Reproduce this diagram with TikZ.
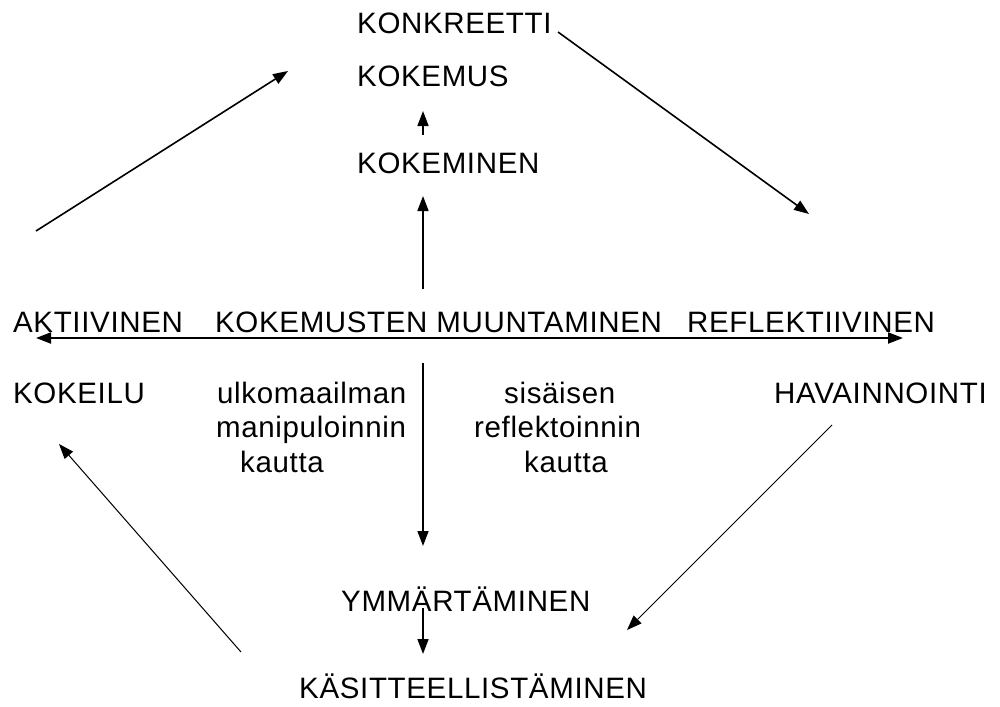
\documentclass[tikz,border=0pt]{standalone}
\usepackage{fontspec}
\setmainfont{Liberation Sans}[LetterSpace=2.2]
\usetikzlibrary{arrows.meta}
\begin{document}
\begin{tikzpicture}[x=1pt,y=-1pt,
  lbl/.style={anchor=base west,inner sep=0pt,font=\fontsize{29.5}{33}\selectfont},
  arr/.style={line width=1.6pt,-{Triangle[length=15pt,width=11pt]}},
  thinarr/.style={line width=1pt,-{Triangle[length=15pt,width=11pt]}}]
\useasboundingbox (0,0) rectangle (1000,706);
% texts
\node[lbl] (konk) at (357,34) {KONKREETTI};
\node[lbl] (kokemus) at (357,87) {KOKEMUS};
\node[lbl] (kokeminen) at (357,173) {KOKEMINEN};
\node[lbl] (akt) at (13,332) {AKTIIVINEN};
\node[lbl] (muunt) at (215,332) {KOKEMUSTEN MUUNTAMINEN};
\node[lbl] (refl) at (687,332) {REFLEKTIIVINEN};
\node[lbl] (kokeilu) at (13,403) {KOKEILU};
\node[lbl] (ulko) at (217,403) {ulkomaailman};
\node[lbl] (mani) at (216,437) {manipuloinnin};
\node[lbl] (kaut1) at (240,472) {kautta};
\node[lbl] (sis) at (504,403) {sisäisen};
\node[lbl] (refk) at (474,437) {reflektoinnin};
\node[lbl] (kaut2) at (524,472) {kautta};
\node[lbl] (hav) at (774,403) {HAVAINNOINTI};
\node[lbl] (ymm) at (341,611) {YMMÄRTÄMINEN};
\node[lbl] (kas) at (299,698) {KÄSITTEELLISTÄMINEN};
% connector end points
\coordinate (a1) at (36,231);  \coordinate (a2) at (288,71);
\coordinate (b1) at (558,32);  \coordinate (b2) at (809,214);
\coordinate (c1) at (423,135); \coordinate (c2) at (423,111);
\coordinate (d1) at (423,289); \coordinate (d2) at (423,196);
\coordinate (h1) at (36,338);  \coordinate (h2) at (903,338);
\coordinate (e1) at (423,363); \coordinate (e2) at (423,546);
\coordinate (f1) at (423,608); \coordinate (f2) at (423,654);
\coordinate (g1) at (832,425); \coordinate (g2) at (627,630);
\coordinate (k1) at (241,652); \coordinate (k2) at (59,444);
% connectors
\draw[arr] (a1) -- (a2);
\draw[arr] (b1) -- (b2);
\draw[arr] (c1) -- (c2);
\draw[arr] (d1) -- (d2);
\draw[line width=2pt,{Triangle[length=15pt,width=11pt]}-{Triangle[length=15pt,width=11pt]}] (h1) -- (h2);
\draw[arr] (e1) -- (e2);
\draw[arr] (f1) -- (f2);
\draw[thinarr] (g1) -- (g2);
\draw[thinarr] (k1) -- (k2);
\end{tikzpicture}
\end{document}
